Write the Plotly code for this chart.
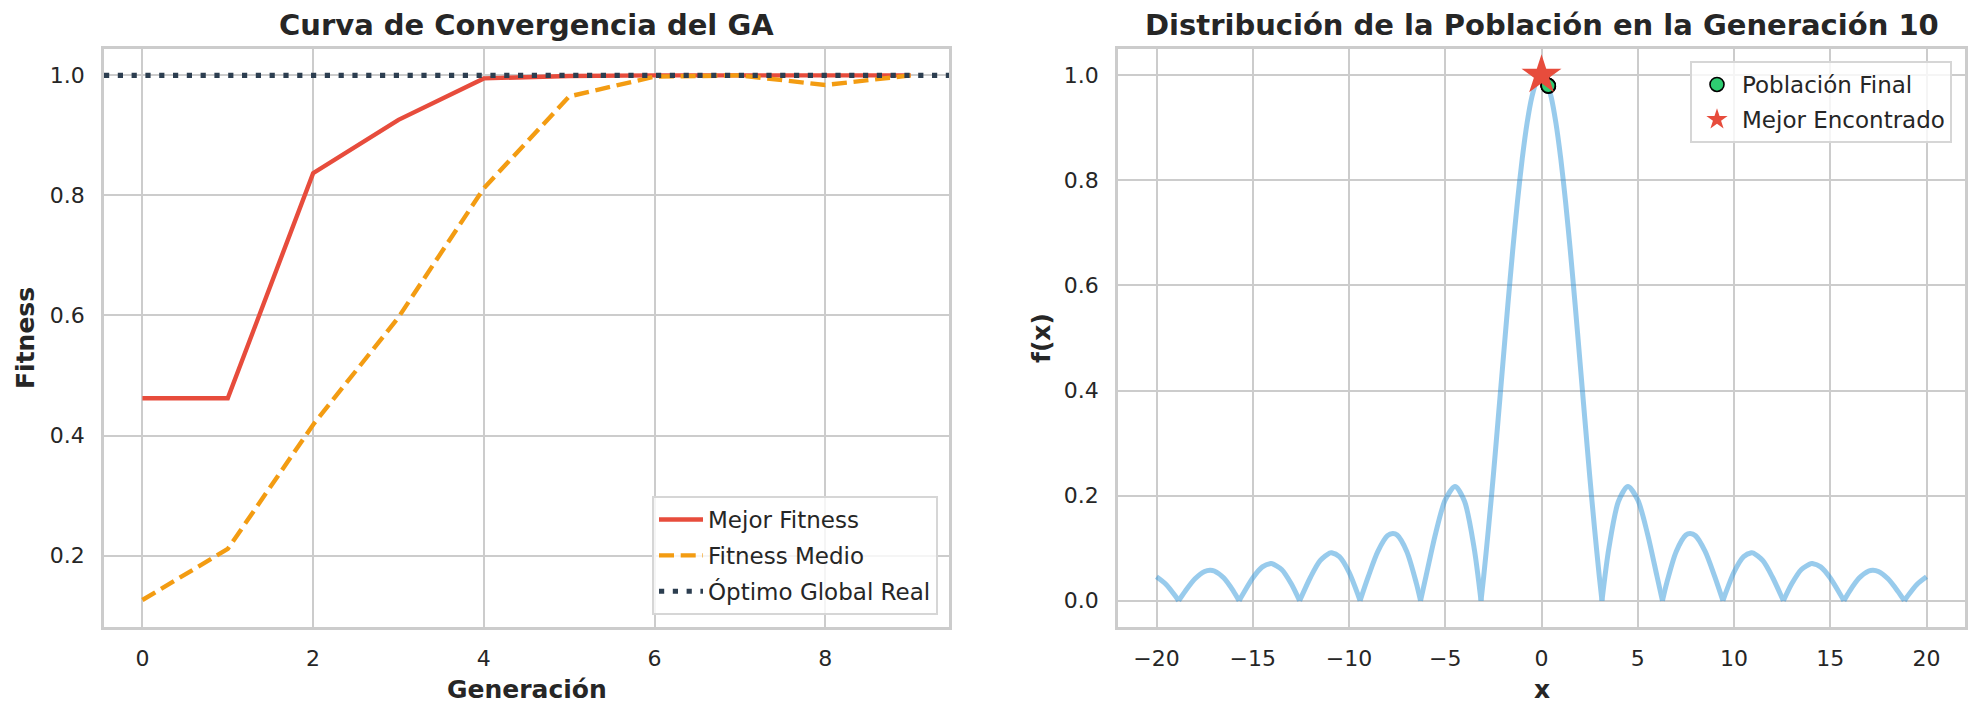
import plotly.graph_objects as go

# ---------------- data ----------------
generations = [0, 1, 2, 3, 4, 5, 6, 7, 8, 9]
best_fitness = [0.462, 0.462, 0.837, 0.926, 0.995, 0.999, 1.0, 1.0, 1.0, 1.0]
mean_fitness = [0.126, 0.211, 0.418, 0.597, 0.812, 0.965, 0.998, 1.0, 0.984, 1.0]
global_optimum = 1.0

curve_x = [-20.0, -19.5, -19.0, -18.85, -18.5, -18.0, -17.5, -17.221, -17.0, -16.5, -16.0, -15.708,
           -15.5, -15.0, -14.5, -14.066, -14.0, -13.5, -13.0, -12.566, -12.5, -12.0, -11.5, -11.0,
           -10.904, -10.5, -10.0, -9.5, -9.4248, -9.0, -8.5, -8.0, -7.725, -7.5, -7.0, -6.5, -6.2832,
           -6.0, -5.5, -5.0, -4.493, -4.0, -3.5, -3.1416, -3.0, -2.75, -2.5, -2.25, -2.0, -1.75, -1.5,
           -1.25, -1.0, -0.75, -0.5, -0.25,
           0.0, 0.25, 0.5, 0.75, 1.0, 1.25, 1.5, 1.75, 2.0, 2.25, 2.5, 2.75, 3.0, 3.1416, 3.5, 4.0,
           4.493, 5.0, 5.5, 6.0, 6.2832, 6.5, 7.0, 7.5, 7.725, 8.0, 8.5, 9.0, 9.4248, 9.5, 10.0, 10.5,
           10.904, 11.0, 11.5, 12.0, 12.5, 12.566, 13.0, 13.5, 14.0, 14.066, 14.5, 15.0, 15.5, 15.708,
           16.0, 16.5, 17.0, 17.221, 17.5, 18.0, 18.5, 18.85, 19.0, 19.5, 20.0]
curve_y = [0.0456, 0.0310, 0.0079, 0.0, 0.0186, 0.0417, 0.0557, 0.0580, 0.0566, 0.0431, 0.0180, 0.0,
           0.0133, 0.0434, 0.0645, 0.0709, 0.0708, 0.0595, 0.0323, 0.0, 0.0053, 0.0447, 0.0761, 0.0909,
           0.0913, 0.0838, 0.0544, 0.0079, 0.0, 0.0458, 0.0939, 0.1237, 0.1280, 0.1251, 0.0939, 0.0331, 0.0,
           0.0466, 0.1283, 0.1918, 0.2172, 0.1892, 0.1002, 0.0, 0.0470, 0.1396, 0.2394, 0.3463, 0.4546, 0.5623, 0.6650,
           0.7592, 0.8415, 0.9089, 0.9589, 0.9896,
           1.0, 0.9896, 0.9589, 0.9089, 0.8415, 0.7592, 0.6650, 0.5623, 0.4546, 0.3463, 0.2394, 0.1396, 0.0470, 0.0, 0.1002, 0.1892,
           0.2172, 0.1918, 0.1283, 0.0466, 0.0, 0.0331, 0.0939, 0.1251, 0.1280, 0.1237, 0.0939, 0.0458, 0.0, 0.0079, 0.0544, 0.0838,
           0.0913, 0.0909, 0.0761, 0.0447, 0.0053, 0.0, 0.0323, 0.0595, 0.0708, 0.0709, 0.0645, 0.0434, 0.0133, 0.0,
           0.0180, 0.0431, 0.0566, 0.0580, 0.0557, 0.0417, 0.0186, 0.0, 0.0079, 0.0310, 0.0456]

population_x = [0.35, 0.34, 0.36, 0.05, 0.35]
population_y = [0.980, 0.981, 0.979, 0.999, 0.980]
best_x = [0.0]
best_y = [1.0]

left_xticks = [0, 2, 4, 6, 8]
left_yticks = [0.2, 0.4, 0.6, 0.8, 1.0]
right_xticks = [-20, -15, -10, -5, 0, 5, 10, 15, 20]
right_xticklabels = ["−20", "−15", "−10", "−5", "0", "5", "10", "15", "20"]
right_yticks = [0.0, 0.2, 0.4, 0.6, 0.8, 1.0]

# split the curve into lobes at its zeros so each lobe is smoothed separately (sharp cusps)
seg_x, seg_y = [], []
for i, (cx, cy) in enumerate(zip(curve_x, curve_y)):
    seg_x.append(cx)
    seg_y.append(cy)
    if cy == 0.0 and 0 < i < len(curve_x) - 1:
        seg_x += [None, cx]
        seg_y += [None, cy]

# ---------------- style ----------------
W, H = 1978, 717
T, B = 49, 90
PH = H - T - B
FONT = "DejaVu Sans"
TXT = "#262626"
GRID = "#cccccc"

fig = go.Figure()

fig.add_trace(go.Scatter(x=generations, y=best_fitness, mode="lines", name="Mejor Fitness",
                         line=dict(color="#e74c3c", width=4.4), xaxis="x", yaxis="y",
                         legend="legend", legendgroup="a"))
fig.add_trace(go.Scatter(x=generations, y=mean_fitness, mode="lines", name="Fitness Medio",
                         line=dict(color="#f39c12", width=4.4, dash="15px,6.7px"), xaxis="x", yaxis="y",
                         legend="legend", legendgroup="b"))
fig.add_shape(type="line", xref="x domain", yref="y", x0=0, x1=1, y0=global_optimum, y1=global_optimum,
              line=dict(color="#2c3e50", width=5.2, dash="5.2px,8.6px"), layer="above",
              showlegend=True, name="Óptimo Global Real", legend="legend", legendgroup="c")

fig.add_trace(go.Scatter(x=seg_x, y=seg_y, mode="lines", showlegend=False, connectgaps=False,
                         line=dict(color="#3498db", width=5, shape="spline", smoothing=0.8),
                         opacity=0.5, xaxis="x2", yaxis="y2"))
fig.add_trace(go.Scatter(x=population_x, y=population_y, mode="markers", name="Población Final",
                         marker=dict(color="#2ecc71", size=14, line=dict(color="black", width=1.6)),
                         xaxis="x2", yaxis="y2", legend="legend2", legendgroup="d"))
fig.add_trace(go.Scatter(x=best_x, y=best_y, mode="markers", name="Mejor Encontrado",
                         marker=dict(color="#e74c3c", size=30, symbol="star", line=dict(width=0)),
                         xaxis="x2", yaxis="y2", legend="legend2", legendgroup="e"))

axis_common = dict(showgrid=True, gridcolor=GRID, gridwidth=2, zeroline=False, showline=True,
                   linecolor=GRID, linewidth=2.6, mirror=True,
                   tickfont=dict(family=FONT, size=22, color=TXT),
                   ticks="outside", tickcolor="rgba(0,0,0,0)")

fig.update_layout(
    width=W, height=H, margin=dict(l=0, r=0, t=T, b=B),
    paper_bgcolor="white", plot_bgcolor="white",
    font=dict(family=FONT, color=TXT),
    xaxis=dict(domain=[104 / W, 949 / W], range=[-0.45, 9.45], tickvals=left_xticks,
               anchor="y", ticklen=10, **axis_common),
    yaxis=dict(domain=[0, 1], range=[0.081, 1.044], tickvals=left_yticks, tickformat=".1f",
               anchor="x", ticklen=12, **axis_common),
    xaxis2=dict(domain=[1118 / W, 1965 / W], range=[-22, 22], tickvals=right_xticks,
                ticktext=right_xticklabels, anchor="y2", ticklen=10, **axis_common),
    yaxis2=dict(domain=[0, 1], range=[-0.05, 1.05], tickvals=right_yticks, tickformat=".1f",
                anchor="x2", ticklen=12, **axis_common),
    legend=dict(x=938 / W, xanchor="right", y=(627 - 615) / PH, yanchor="bottom",
                bgcolor="rgba(255,255,255,0.8)", bordercolor="#d6d6d6", borderwidth=2,
                font=dict(family=FONT, size=23, color=TXT), tracegroupgap=3, itemwidth=44),
    legend2=dict(x=1952 / W, xanchor="right", y=(627 - 61) / PH, yanchor="top",
                 bgcolor="rgba(255,255,255,0.8)", bordercolor="#d6d6d6", borderwidth=2,
                 font=dict(family=FONT, size=23, color=TXT), tracegroupgap=2, itemwidth=40),
    showlegend=True,
)

def ann(text, x, y, size, bold=True, angle=0, xanchor="center", yanchor="middle", yshift=0):
    fig.add_annotation(text=f"<b>{text}</b>" if bold else text, x=x, y=y, xref="paper", yref="paper",
                       showarrow=False, textangle=angle, xanchor=xanchor, yanchor=yanchor,
                       yshift=yshift, font=dict(family=FONT, size=size, color=TXT))

ann("Curva de Convergencia del GA", (104 + 949) / 2 / W, 1, 29, yanchor="bottom", yshift=5)
ann("Distribución de la Población en la Generación 10", (1118 + 1965) / 2 / W, 1, 29,
    yanchor="bottom", yshift=5)
ann("Generación", (104 + 949) / 2 / W, (627 - 689) / PH, 25)
ann("x", (1118 + 1965) / 2 / W, (627 - 689) / PH, 25)
ann("Fitness", 25 / W, 0.5, 25, angle=-90)
ann("f(x)", 1041 / W, 0.5, 25, angle=-90)

fig.write_html("out.html")
